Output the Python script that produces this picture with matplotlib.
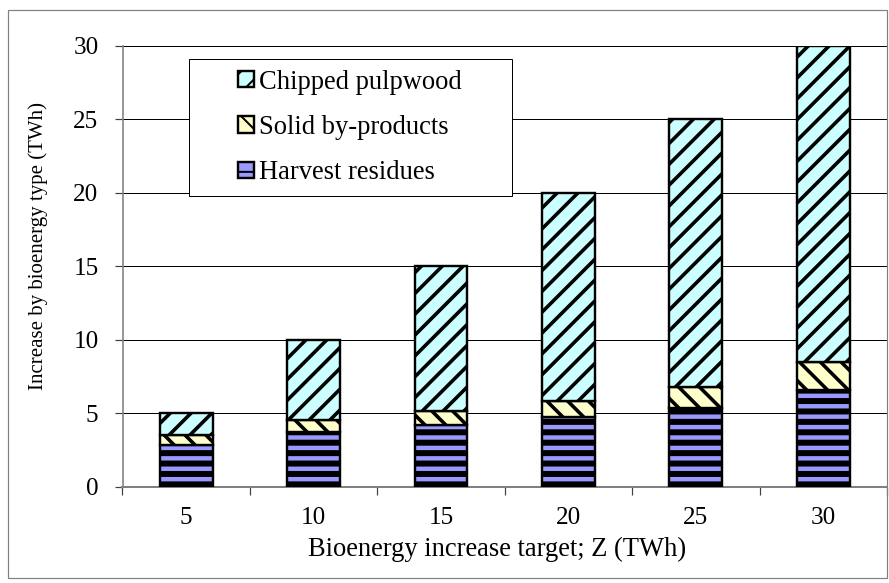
import matplotlib
matplotlib.use("Agg")
import matplotlib.pyplot as plt
import matplotlib.patches as mpatches
from matplotlib.legend_handler import HandlerPatch
import numpy as np

# Bioenergy increase targets (TWh) and the contribution of each source (TWh)
targets = ["5", "10", "15", "20", "25", "30"]
harvest_residues = [2.8, 3.7, 4.2, 4.75, 5.35, 6.6]
solid_byproducts = [0.7, 0.8, 0.95, 1.05, 1.45, 1.9]
chipped_pulpwood = [1.5, 5.5, 9.85, 14.2, 18.2, 21.5]
y_ticks = [0, 5, 10, 15, 20, 25, 30]

DPI = 125
W, H = 889, 583
PX = 72.0 / DPI  # one pixel in points

plt.rcParams['font.family'] = ['Liberation Serif', 'DejaVu Serif']
plt.rcParams['hatch.color'] = 'black'

fig = plt.figure(figsize=(W / DPI, H / DPI), dpi=DPI)
ax = fig.add_axes([122.5 / W, 1 - 486.5 / H, 764.5 / W, 440.5 / H])

x = np.arange(len(targets))
bar_w = 0.415


def stacked(values, bottom, color, hatch, hatch_lw, label):
    plt.rcParams['hatch.linewidth'] = hatch_lw
    bars = ax.bar(x, values, width=bar_w, bottom=bottom, color=color,
                  edgecolor='black', linewidth=2.4 * PX, hatch=hatch,
                  label=label, zorder=3)
    for b in bars:
        if hasattr(b, 'set_hatch_linewidth'):
            b.set_hatch_linewidth(hatch_lw)
    return bars


h = np.array(harvest_residues)
s = np.array(solid_byproducts)
c = np.array(chipped_pulpwood)

b_h = stacked(h, 0, '#9999FF', '--', 6.0 * PX, 'Harvest residues')
b_s = stacked(s, h, '#FFFFCC', '\\\\', 3.6 * PX, 'Solid by-products')
b_c = stacked(c, h + s, '#CCFFFF', '//', 3.6 * PX, 'Chipped pulpwood')

# axes styling
ax.set_xlim(-0.5, len(targets) - 0.5)
ax.set_ylim(0, 30)
ax.set_yticks(y_ticks)
ax.set_xticks(x)
ax.set_xticklabels(targets)
ax.set_xticks(np.arange(-0.5, len(targets), 1.0), minor=True)

ax.set_axisbelow(True)
ax.yaxis.grid(True, color='black', linewidth=1.0 * PX, zorder=0)

for side in ('top', 'right'):
    ax.spines[side].set_visible(False)
ax.spines['left'].set_color('#808080')
ax.spines['left'].set_linewidth(1.6 * PX)
ax.spines['bottom'].set_color('#808080')
ax.spines['bottom'].set_linewidth(2.0 * PX)

tick_fs = 14.5
label_fs = 15.3
ax.tick_params(axis='y', direction='out', length=8 * PX, width=1.2 * PX,
               color='#404040', labelsize=tick_fs, pad=16 * PX)
ax.tick_params(axis='x', which='major', length=0, labelsize=tick_fs, pad=21 * PX)
ax.tick_params(axis='x', which='minor', direction='out', length=8 * PX,
               width=1.2 * PX, color='#404040')

ax.set_ylabel('Increase by bioenergy type (TWh)', fontsize=12.0, va='center')
ax.yaxis.set_label_coords((38 - 122.5) / 764.5, (486.5 - 246) / 440.5)
ax.set_xlabel('Bioenergy increase target; Z (TWh)', fontsize=label_fs, va='center')
ax.xaxis.set_label_coords((497 - 122.5) / 764.5, (486.5 - 549) / 440.5)


def square_handle(legend, orig_handle, xdescent, ydescent, width, height, fontsize):
    side = height
    return mpatches.Rectangle((-xdescent + width - side, -ydescent), side, side)


plt.rcParams['hatch.linewidth'] = 2.0 * PX
handler = HandlerPatch(patch_func=square_handle)
hc, hs, hh = b_c.patches[0], b_s.patches[0], b_h.patches[0]
leg_x0 = (188.5 - 122.5) / 764.5
leg_w = 323.5 / 764.5
leg_top = (486.5 - 58.6) / 440.5
leg = ax.legend([hc, hs, hh],
                ['Chipped pulpwood', 'Solid by-products', 'Harvest residues'],
                handler_map={hc: handler, hs: handler, hh: handler},
                loc='upper left', mode='expand',
                bbox_to_anchor=(leg_x0, leg_top - 0.3, leg_w, 0.3),
                borderaxespad=0, fontsize=label_fs, frameon=True, fancybox=False,
                framealpha=1, edgecolor='black', borderpad=0.42,
                handlelength=2.05, handleheight=0.564, handletextpad=0.19,
                labelspacing=0.76)
leg.get_frame().set_linewidth(1.0 * PX)
leg.set_zorder(5)

# outer chart border
fig.add_artist(mpatches.Rectangle((8 / W, 5 / H), (887 - 8) / W, (578 - 10) / H,
                                  transform=fig.transFigure, fill=False,
                                  edgecolor='#808080', linewidth=1.2 * PX))

fig.savefig('out.png', dpi=DPI)
